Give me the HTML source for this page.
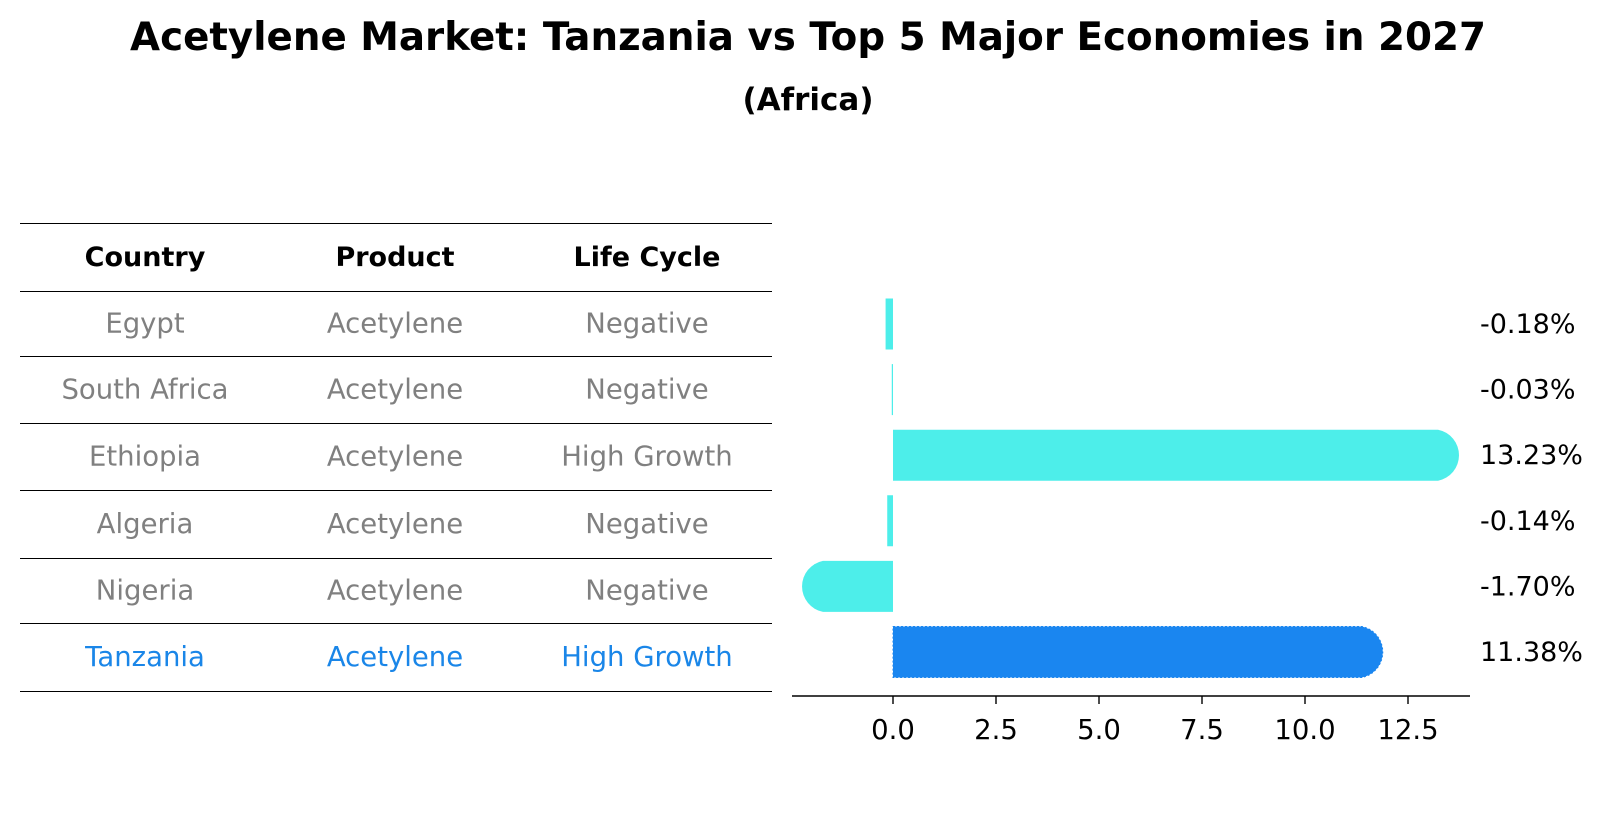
<!DOCTYPE html>
<html><head><meta charset="utf-8"><style>
body{margin:0;background:#fff;font-family:"DejaVu Sans","Liberation Sans",sans-serif;}
svg text{font-family:"DejaVu Sans","Liberation Sans",sans-serif;}
</style></head><body>
<svg id="c" width="1604" height="823" xmlns="http://www.w3.org/2000/svg">
<text x="808" y="50" text-anchor="middle" font-size="38.8" font-weight="bold">Acetylene Market: Tanzania vs Top 5 Major Economies in 2027</text>
<text x="808" y="110" text-anchor="middle" font-size="31" font-weight="bold">(Africa)</text>
<g id="table"></g>
<g id="bars"></g>
</svg>
<script>
const countries=["Egypt","South Africa","Ethiopia","Algeria","Nigeria","Tanzania"];
const products=["Acetylene","Acetylene","Acetylene","Acetylene","Acetylene","Acetylene"];
const lifeCycles=["Negative","Negative","High Growth","Negative","Negative","High Growth"];
const values=[-0.18,-0.03,13.23,-0.14,-1.70,11.38];
const valueLabels=["-0.18%","-0.03%","13.23%","-0.14%","-1.70%","11.38%"];
const ticks=[0,2.5,5,7.5,10,12.5];
const tickLabels=["0.0","2.5","5.0","7.5","10.0","12.5"];
const NS="http://www.w3.org/2000/svg";
function mk(tag,attrs,parent){const e=document.createElementNS(NS,tag);for(const k in attrs)e.setAttribute(k,attrs[k]);parent.appendChild(e);return e;}
const T=document.getElementById('table'),B=document.getElementById('bars');
const lineY=[223,291,356,423,490,558,623,691];
lineY.forEach(y=>{const l=mk('line',{x1:20,x2:772,y1:y+0.5,y2:y+0.5,stroke:'#000','stroke-width':1.1},T);

});
const colX=[145,395,647];
["Country","Product","Life Cycle"].forEach((h,i)=>{const t=mk('text',{x:colX[i],y:(lineY[0]+lineY[1])/2+9,'text-anchor':'middle','font-size':27,'font-weight':'bold'},T);t.textContent=h;

});
countries.forEach((c,r)=>{const y=(lineY[r+1]+lineY[r+2])/2+9;const col=c==="Tanzania"?"#1a86e8":"#808080";
[c,products[r],lifeCycles[r]].forEach((v,i)=>{const t=mk('text',{x:colX[i],y:y,'text-anchor':'middle','font-size':27.5,fill:col},T);t.textContent=v;

});});
const x0=893,scale=41.2;const xs=v=>x0+v*scale;
const yc=i=>324+i*65.6;const h=51,r=26;
values.forEach((v,i)=>{const col=countries[i]==="Tanzania"?"#1a86f0":"#4deeea";
const xe=xs(v);const top=yc(i)-h/2;let d;
if(Math.abs(v)>1){const dir=v>0?1:-1;d=`M${x0},${top} L${xe},${top} A${r},${r} 0 0 ${dir>0?1:0} ${xe},${top+h} L${x0},${top+h} Z`;}
else{const a=Math.min(x0,xe),b=Math.max(x0,xe,a+1);d=`M${a},${top} L${b},${top} L${b},${top+h} L${a},${top+h} Z`;}
const p=mk('path',{d:d,fill:col},B);
if(countries[i]==="Tanzania"){p.setAttribute('stroke','#1a86f0');p.setAttribute('stroke-dasharray','2,2');}


const t=mk('text',{x:1480,y:yc(i)+9,'font-size':27},B);t.textContent=valueLabels[i];

});
const ax=mk('line',{x1:792,x2:1470,y1:696,y2:696,stroke:'#000','stroke-width':1.6},B);


ticks.forEach((v,i)=>{const tk=mk('line',{x1:xs(v),x2:xs(v),y1:696,y2:704,stroke:'#000','stroke-width':1.4},B);


const t=mk('text',{x:xs(v),y:739,'text-anchor':'middle','font-size':27.5},B);t.textContent=tickLabels[i];

});
</script>
</body></html>
